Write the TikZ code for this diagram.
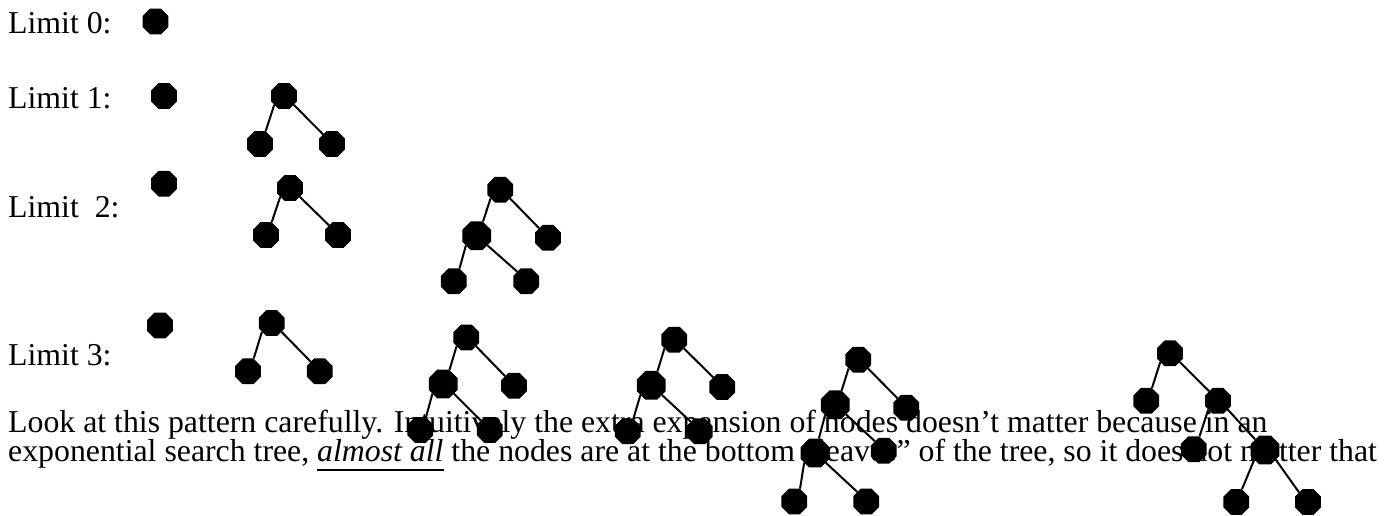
\documentclass[tikz,border=0pt]{standalone}
\usepackage{fontspec}
\setmainfont{Liberation Serif}
\usetikzlibrary{shapes.geometric}
% underline drawn a little below the baseline
\newcommand\lowul[1]{\setbox0\hbox{#1}\rlap{\rule[-9.5pt]{\wd0}{1.8pt}}\box0\relax}
\tikzset{
  oct/.style={regular polygon, regular polygon sides=8, fill=black,
    draw=none, inner sep=0pt, minimum size=28pt},
  bigoct/.style={oct, minimum size=31pt},
  edge/.style={line width=2pt},
  lbl/.style={anchor=base west, inner sep=0pt, font=\fontsize{31.8}{29}\selectfont},
}
\begin{document}
\begin{tikzpicture}[x=1pt,y=-1pt]
\useasboundingbox (0,0) rectangle (1387,515);
% row labels and paragraph text
\node[lbl] (t0) at (8,33.3) {Limit 0:};
\node[lbl] (t1) at (8,108.3) {Limit 1:};
\node[lbl] (t2) at (8,217) {Limit\ \ 2:};
\node[lbl] (t3) at (8,365) {Limit 3:};
\node[lbl] (p1) at (8,432) {Look at this pattern carefully. Intuitively the extra expansion of nodes doesn’t matter because in an};
\node[lbl] (p2) at (8,461.5) {exponential search tree, \lowul{\itshape almost all} the nodes are at the bottom “leaves” of the tree, so it does not matter that};

% Limit 0
\node[oct] (n0) at (155.5,21.5) {};

% Limit 1
\node[oct] (s1) at (164,96) {};
\node[oct] (t1r) at (284,96) {};
\node[oct] (t1a) at (260,144) {};
\node[oct] (t1b) at (332,144) {};
\draw[edge] (t1r.222) -- (t1a.66);
\draw[edge] (t1r.318) -- (t1b.133);

% Limit 2
\node[oct] (s2) at (164,183.7) {};
\node[oct] (ur) at (290,188) {};
\node[oct] (ua) at (266,235) {};
\node[oct] (ub) at (338,235) {};
\draw[edge] (ur.222) -- (ua.66);
\draw[edge] (ur.318) -- (ub.133);
\node[oct] (vr) at (500.3,189.7) {};
\node[bigoct] (vm) at (476.7,235.7) {};
\node[oct] (vb) at (548,237.8) {};
\node[oct] (vml) at (453.8,281.3) {};
\node[oct] (vmr) at (526.2,281.3) {};
\draw[edge] (vr.222) -- (vm.66);
\draw[edge] (vr.318) -- (vb.133);
\draw[edge] (vm.222) -- (vml.66);
\draw[edge] (vm.318) -- (vmr.133);

% Limit 3
\node[oct] (s3) at (160,325.5) {};
\node[oct] (wr) at (271.7,323) {};
\node[oct] (wa) at (248,371.3) {};
\node[oct] (wb) at (319.7,371.3) {};
\draw[edge] (wr.222) -- (wa.66);
\draw[edge] (wr.318) -- (wb.133);

\node[oct] (ar) at (466.3,337.5) {};
\node[bigoct] (am) at (443.2,384) {};
\node[oct] (ab) at (514,385.7) {};
\node[oct] (aml) at (420.3,430) {};
\node[oct] (amr) at (489.7,430) {};
\draw[edge] (ar.222) -- (am.66);
\draw[edge] (ar.318) -- (ab.133);
\draw[edge] (am.222) -- (aml.66);
\draw[edge] (am.318) -- (amr.133);

\node[oct] (br) at (674.2,339.7) {};
\node[bigoct] (bm) at (651.2,385.3) {};
\node[oct] (bb) at (722.2,387) {};
\node[oct] (bml) at (627.7,431.3) {};
\node[oct] (bmr) at (699.7,431.3) {};
\draw[edge] (br.222) -- (bm.66);
\draw[edge] (br.318) -- (bb.133);
\draw[edge] (bm.222) -- (bml.66);
\draw[edge] (bm.318) -- (bmr.133);

\node[oct] (cr) at (858.3,359.7) {};
\node[bigoct] (cm) at (835.3,404.8) {};
\node[oct] (cb) at (906.3,407.8) {};
\node[bigoct] (cmm) at (815,453) {};
\node[oct] (cmb) at (883.8,450.8) {};
\node[oct] (cmml) at (794.3,501.5) {};
\node[oct] (cmmr) at (866.2,501.5) {};
\draw[edge] (cr.222) -- (cm.66);
\draw[edge] (cr.318) -- (cb.133);
\draw[edge] (cm.225) -- (cmm.75);
\draw[edge] (cm.318) -- (cmb.133);
\draw[edge] (cmm.222) -- (cmml.66);
\draw[edge] (cmm.318) -- (cmmr.133);

\node[oct] (dr) at (1170,353.3) {};
\node[oct] (da) at (1146.3,400.8) {};
\node[oct] (dm) at (1218,400.8) {};
\node[oct] (dma) at (1193.8,449.2) {};
\node[bigoct] (dmm) at (1265,450) {};
\node[oct] (dmml) at (1236.3,502) {};
\node[oct] (dmmr) at (1308,502) {};
\draw[edge] (dr.222) -- (da.66);
\draw[edge] (dr.318) -- (dm.133);
\draw[edge] (dm.222) -- (dma.66);
\draw[edge] (dm.318) -- (dmm.133);
\draw[edge] (dmm.222) -- (dmml.66);
\draw[edge] (dmm.318) -- (dmmr.133);
\end{tikzpicture}
\end{document}
